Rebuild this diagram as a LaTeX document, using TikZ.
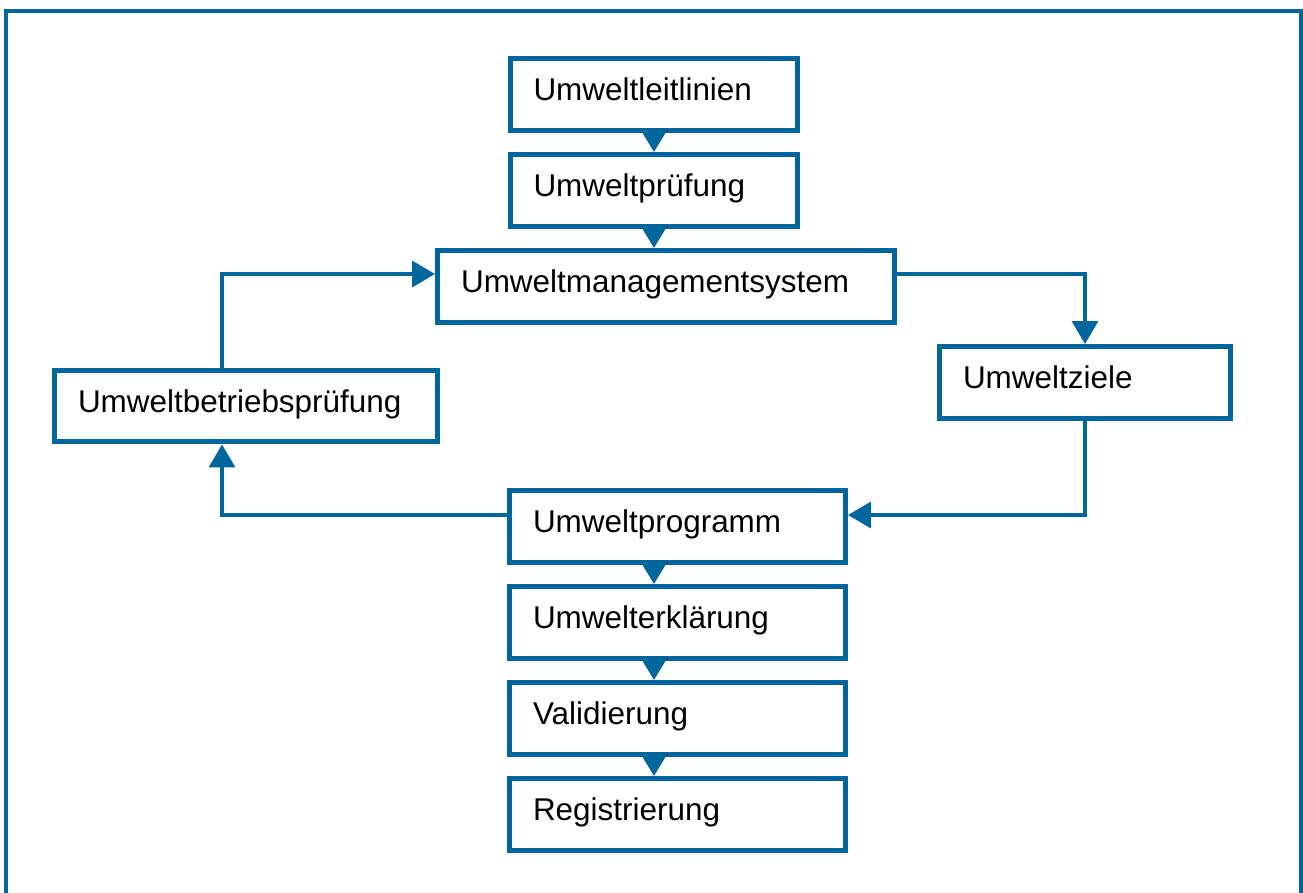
\documentclass[tikz,border=0pt]{standalone}
\usepackage{fontspec}
\setmainfont{Liberation Sans}
\usetikzlibrary{arrows.meta}
\definecolor{umblau}{RGB}{0,102,158}

\begin{document}
\begin{tikzpicture}[x=0.02cm,y=-0.02cm,
    kasten/.style={draw=umblau,line width=0.1cm,fill=white,inner xsep=0.47cm,inner ysep=0pt,
      text width=#1,align=left,minimum height=1.44cm,text height=0.75em,text depth=0.05em,
      font=\fontsize{17.9}{21}\selectfont},
    pfeil/.style={draw=umblau,line width=0.07cm,-{Triangle[length=0.46cm,width=0.52cm]}},
    kpfeil/.style={draw=umblau,line width=0.07cm,-{Triangle[length=0.38cm,width=0.44cm]}}]
    \useasboundingbox (0,0) rectangle (1303,893);
    \draw[umblau,line width=0.08cm] (6,893) -- (6,11) -- (1301,11) -- (1301,893);

    \node[kasten=4.82cm] (leit)  at (654,94.5)   {Umweltleitlinien};
    \node[kasten=4.82cm] (pruef) at (654,190.5)  {Umweltprüfung};
    \node[kasten=8.2cm]  (ums)   at (666,286.5)  {Umweltmanagementsystem};
    \node[kasten=4.88cm] (ziele) at (1085,382.5) {Umweltziele};
    \node[kasten=6.72cm] (bzp)   at (246,406)    {Umweltbetriebsprüfung};
    \node[kasten=5.78cm] (prog)  at (677.5,526.5) {Umweltprogramm};
    \node[kasten=5.78cm] (erkl)  at (677.5,622.5) {Umwelterklärung};
    \node[kasten=5.78cm] (valid) at (677.5,718.5) {Validierung};
    \node[kasten=5.78cm] (reg)   at (677.5,814.5) {Registrierung};

    \coordinate (achse) at (654,0);
    \coordinate (oben)  at (222,274);
    \coordinate (unten) at (222,515);

    % senkrechte Kette
    \draw[kpfeil] (leit.south -| achse) -- (pruef.north -| achse);
    \draw[kpfeil] (pruef.south -| achse) -- (ums.north -| achse);
    \draw[kpfeil] (prog.south -| achse) -- (erkl.north -| achse);
    \draw[kpfeil] (erkl.south -| achse) -- (valid.north -| achse);
    \draw[kpfeil] (valid.south -| achse) -- (reg.north -| achse);

    % Kreislauf
    \draw[pfeil] (ums.east |- oben) -| (ziele.north);
    \draw[pfeil] (ziele.south) |- (prog.east |- unten);
    \draw[pfeil] (prog.west |- unten) -| (bzp.south -| unten);
    \draw[pfeil] (bzp.north -| oben) |- (ums.west |- oben);
\end{tikzpicture}
\end{document}
